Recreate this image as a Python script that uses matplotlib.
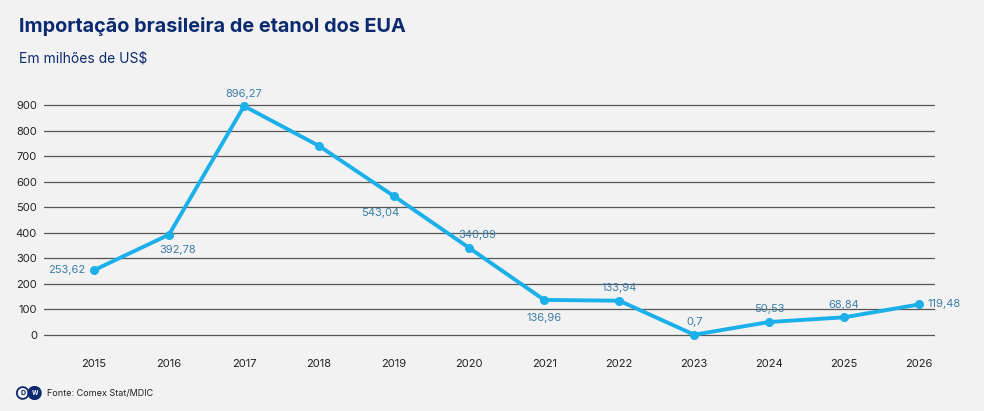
import matplotlib.pyplot as plt
from matplotlib.patches import Circle

years = [2015, 2016, 2017, 2018, 2019, 2020, 2021, 2022, 2023, 2024, 2025, 2026]
values = [253.62, 392.78, 896.27, 740.0, 543.04, 340.89, 136.96, 133.94, 0.7, 50.53, 68.84, 119.48]
labels = ["253,62", "392,78", "896,27", None, "543,04", "340,89", "136,96", "133,94", "0,7", "50,53", "68,84", "119,48"]
# label offsets in points (dx, dy) and horizontal alignment
offsets = [(-6, 0, "right"), (6, -11, "center"), (0, 9, "center"), None, (-10, -12, "center"),
           (6, 9, "center"), (0, -13, "center"), (0, 9, "center"), (0, 9, "center"),
           (0, 9, "center"), (0, 9, "center"), (6, 0, "left")]
yticks = [0, 100, 200, 300, 400, 500, 600, 700, 800, 900]

bg = "#f3f2f2"
line_c = "#1cb0ea"
label_c = "#3b7ea8"
navy = "#0b2a6f"

plt.rcParams["font.family"] = ["Inter", "DejaVu Sans"]

fig = plt.figure(figsize=(9.84, 4.11), dpi=100, facecolor=bg)
ax = fig.add_axes([44 / 984, 1 - 340 / 411, (935 - 44) / 984, 240 / 411])
ax.set_facecolor(bg)

ax.plot(years, values, color=line_c, lw=2.8, marker="o", ms=5.5, zorder=3,
        solid_joinstyle="round")

for x, y, lab, off in zip(years, values, labels, offsets):
    if lab is None:
        continue
    dx, dy, ha = off
    ax.annotate(lab, (x, y), xytext=(dx, dy), textcoords="offset points",
                ha=ha, va="center", fontsize=8, color=label_c, zorder=4)

ax.set_xlim(2015 - 0.667, 2026.21)
ax.set_ylim(-20, 920)
ax.set_yticks(yticks)
ax.set_xticks(years)
ax.grid(axis="y", color="#555555", lw=0.9)
ax.set_axisbelow(True)
for s in ax.spines.values():
    s.set_visible(False)
ax.tick_params(axis="both", length=0, labelsize=8, colors="#222222")
ax.tick_params(axis="y", pad=5)
ax.tick_params(axis="x", pad=14)

fig.text(19 / 984, 1 - 26 / 411, "Importação brasileira de etanol dos EUA",
         fontsize=14.3, fontweight="bold", color=navy, va="center")
fig.text(19 / 984, 1 - 59 / 411, "Em milhões de US$", fontsize=10,
         color=navy, va="center")

# DW logo + source
lax = fig.add_axes([15 / 984, 1 - 400 / 411, 28 / 984, 14 / 411])
lax.set_xlim(0, 2)
lax.set_ylim(0, 1)
lax.axis("off")
lax.add_patch(Circle((0.55, 0.5), 0.42, facecolor="none", edgecolor=navy, lw=1.3))
lax.add_patch(Circle((1.4, 0.5), 0.46, facecolor=navy, edgecolor=navy, lw=1))
lax.text(0.55, 0.48, "D", ha="center", va="center", fontsize=5, fontweight="bold", color=navy)
lax.text(1.4, 0.48, "W", ha="center", va="center", fontsize=4.5, fontweight="bold", color="white")
fig.text(47 / 984, 1 - 393 / 411, "Fonte: Comex Stat/MDIC", fontsize=6.5,
         color="#222222", va="center")

fig.savefig("out.png", dpi=100, facecolor=bg)
